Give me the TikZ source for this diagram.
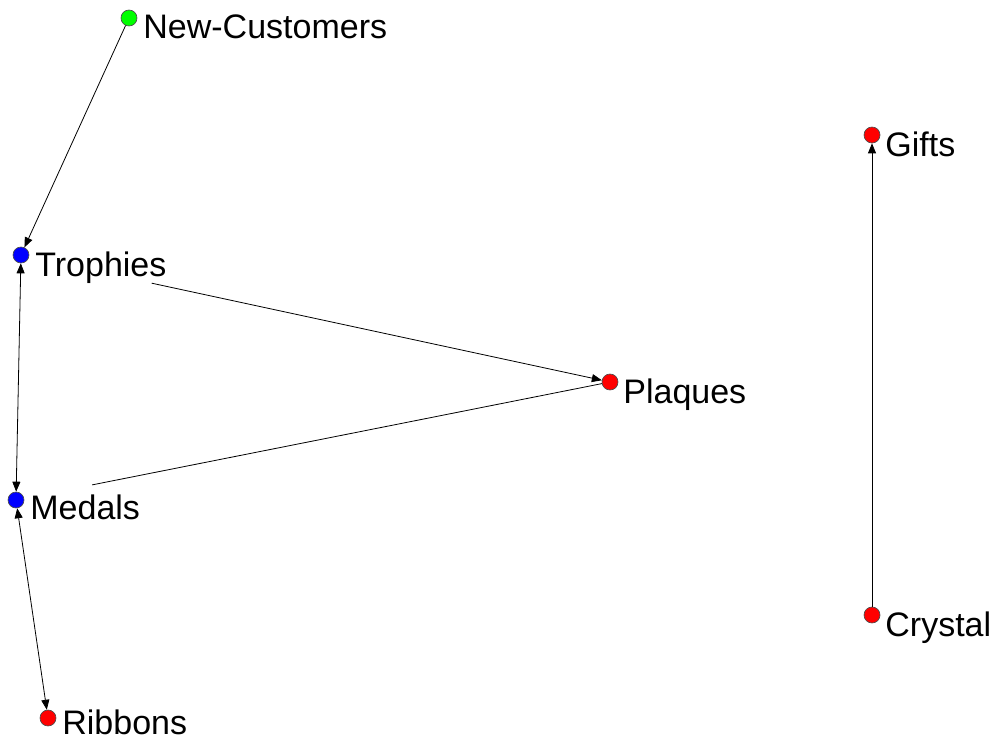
\documentclass[tikz,border=0pt]{standalone}
\usepackage{fontspec}
\setmainfont{Liberation Sans}
\usetikzlibrary{calc,arrows.meta,positioning}
\tikzset{
  dot/.style={circle, draw=black!70, line width=0.5pt, minimum size=12pt, inner sep=0pt},
  lbl/.style={anchor=base west, inner sep=0pt, font=\fontsize{25.5}{30}\selectfont},
}

\begin{document}
\begin{tikzpicture}[x=0.75pt,y=-0.75pt,>={Triangle[length=7.5pt,width=6pt]},line width=0.6pt]
    \useasboundingbox (0,0) rectangle (992,742);
    % actors
    \node[dot,fill=green] (newc)  at (129,18)  {};
    \node[dot,fill=blue]  (troph) at (21,255)  {};
    \node[dot,fill=blue]  (medal) at (16,500)  {};
    \node[dot,fill=red]   (ribb)  at (48,718)  {};
    \node[dot,fill=red]   (plaq)  at (610,382) {};
    \node[dot,fill=red]   (gift)  at (872,135) {};
    \node[dot,fill=red]   (cryst) at (872,615) {};
    % names
    \node[lbl] (newc-l)  at ($(newc)+(14,21)$)  {New-Customers};
    \node[lbl] (troph-l) at ($(troph)+(14,21)$) {Trophies};
    \node[lbl] (medal-l) at ($(medal)+(14,19)$) {Medals};
    \node[lbl] (ribb-l)  at ($(ribb)+(14,16)$)  {Ribbons};
    \node[lbl] (plaq-l)  at ($(plaq)+(13,21)$)  {Plaques};
    \node[lbl] (gift-l)  at ($(gift)+(13,21)$)  {Gifts};
    \node[lbl] (cryst-l) at ($(cryst)+(13,21)$) {Crystal};
    % ties
    \path[->]
    (newc)  edge (troph)
    (troph) edge[<->] (medal)
    (medal) edge[<->] (ribb)
    (troph) edge[shorten <=94pt] (plaq)
    (medal) edge[-, shorten <=52pt] (plaq)
    (cryst) edge (gift);
\end{tikzpicture}
\end{document}
